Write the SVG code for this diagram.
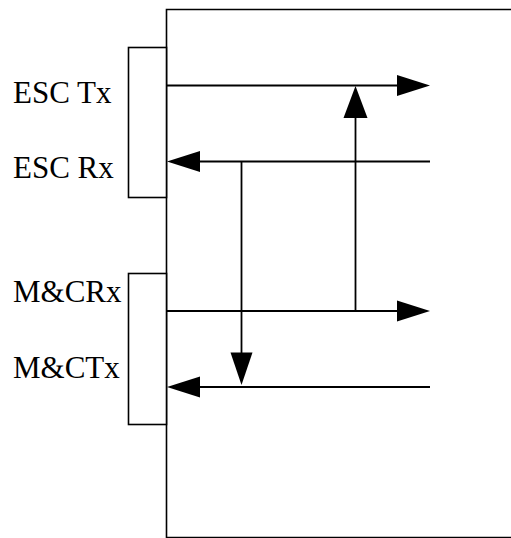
<svg xmlns="http://www.w3.org/2000/svg" width="511" height="538" viewBox="0 0 511 538">
<style>
.box{fill:#fff;stroke:#000;stroke-width:1.6}
.edge{fill:none;stroke:#000;stroke-width:1.6}
.ln{stroke:#000;stroke-width:1.8;fill:none}
.ah{fill:#000;stroke:none}
.lbl{font-family:"Liberation Serif","Times New Roman",serif;font-size:31px;fill:#000}
</style>
<rect width="511" height="538" fill="#fff"/>
<g id="frame"><path class="edge" d="M520,9.5 H166.5 V537.5 H520"/></g>
<g id="esc">
<rect class="box" x="128.5" y="47.5" width="38" height="150"/>
<text class="lbl" x="13" y="103">ESC Tx</text>
<text class="lbl" x="13" y="178">ESC Rx</text>
</g>
<g id="mc">
<rect class="box" x="128.5" y="273.5" width="38" height="151"/>
<text class="lbl" x="13" y="302">M&amp;CRx</text>
<text class="lbl" x="13" y="378">M&amp;CTx</text>
</g>
<g id="connectors">
<line class="ln" x1="167" y1="85.5" x2="400" y2="85.5"/>
<polygon class="ah" points="430,85.5 397,75 397,96"/>
<line class="ln" x1="430" y1="161.5" x2="198" y2="161.5"/>
<polygon class="ah" points="167,161.5 200,151 200,172"/>
<line class="ln" x1="167" y1="311" x2="400" y2="311"/>
<polygon class="ah" points="430,311 397,300.5 397,321.5"/>
<line class="ln" x1="430" y1="387" x2="198" y2="387"/>
<polygon class="ah" points="167,387 200,376.5 200,397.5"/>
<line class="ln" x1="355.5" y1="311" x2="355.5" y2="116"/>
<polygon class="ah" points="355.5,86 343.5,118 367.5,118"/>
<line class="ln" x1="241.5" y1="161.5" x2="241.5" y2="355"/>
<polygon class="ah" points="241.5,385 230.5,352.5 252.5,352.5"/>
</g>
</svg>
